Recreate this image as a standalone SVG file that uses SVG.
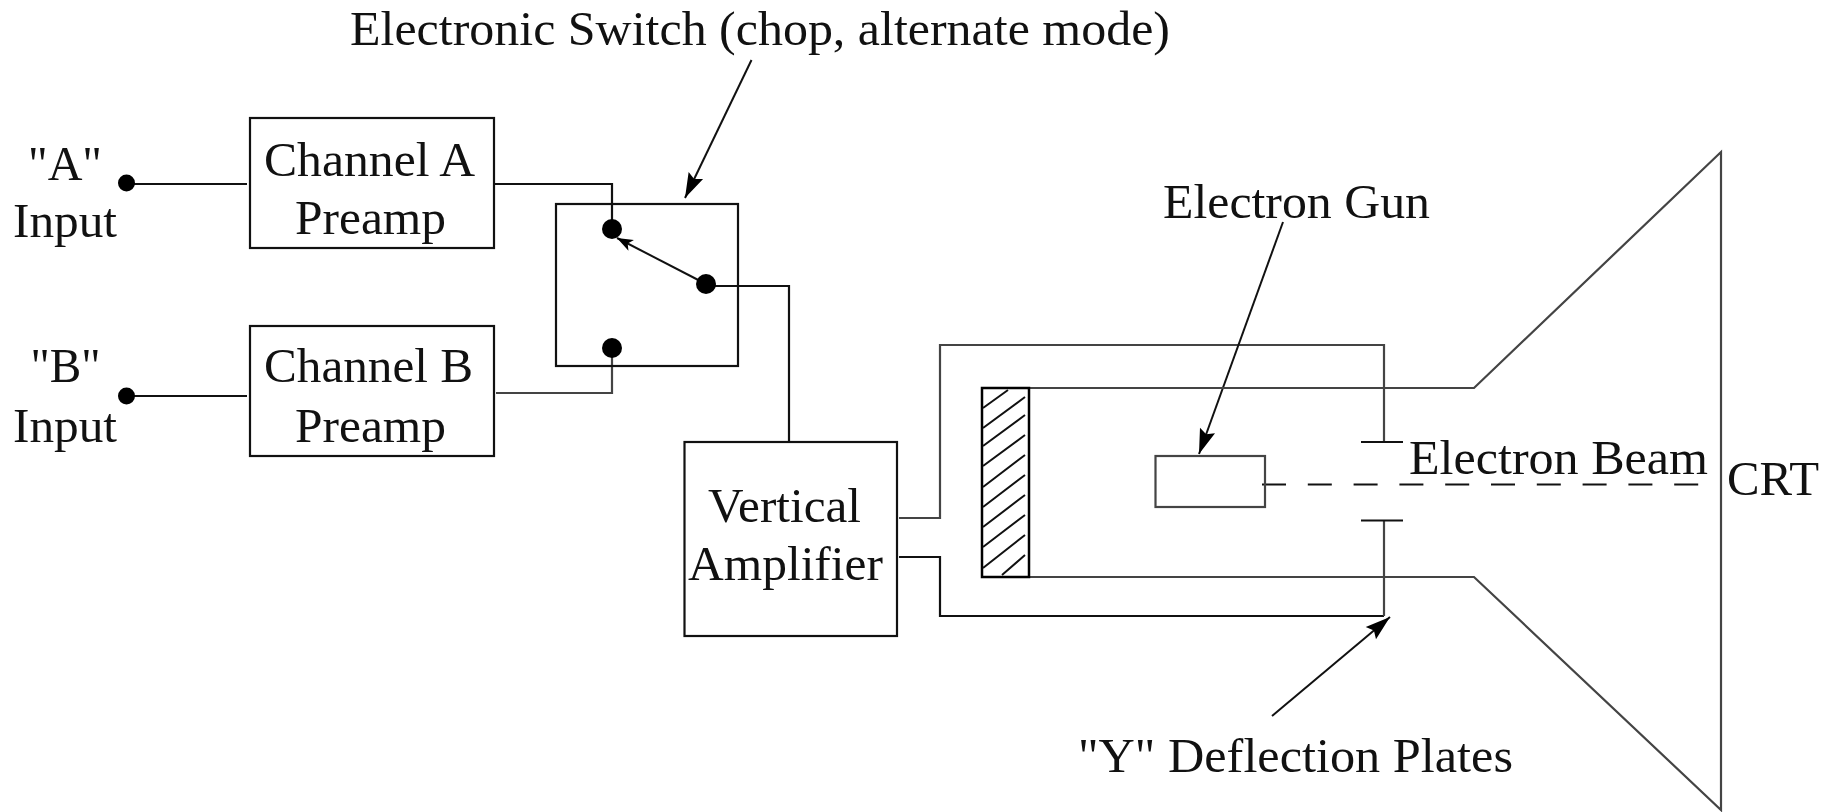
<svg xmlns="http://www.w3.org/2000/svg" width="1835" height="812" viewBox="0 0 1835 812">
<style>
text{font-family:"Liberation Serif","Times New Roman",serif;font-size:49px;fill:#111}
.b{fill:none;stroke:#111;stroke-width:2.200}
.g{fill:none;stroke:#444;stroke-width:2.200}
.w{fill:none;stroke:#111;stroke-width:2}
.d{fill:#000}
</style>
<defs>
<marker id="ah" markerUnits="userSpaceOnUse" markerWidth="30" markerHeight="20" refX="25" refY="8" orient="auto" viewBox="0 0 30 20" overflow="visible">
<path d="M25 8L0 0L4 8L0 16Z" fill="#000"/>
</marker>
<marker id="ahs" markerUnits="userSpaceOnUse" markerWidth="20" markerHeight="16" refX="16" refY="6" orient="auto" viewBox="0 0 20 16" overflow="visible">
<path d="M16 6L0 0L4 6L0 12Z" fill="#000"/>
</marker>
</defs>
<g id="connectors">
<path class="b" d="M126 184H247"/>
<path class="b" d="M126 396H247"/>
<path class="b" d="M495 184H612V229"/>
<path class="g" d="M496 393H612V348"/>
<path class="b" d="M706 286H789V442"/>
<path class="g" d="M899 518H940V345H1384V442"/>
<path class="b" d="M899 557H940V616H1384"/>
<path class="g" d="M1384 616V521"/>
<path class="w" d="M706 284L617 238" marker-end="url(#ahs)"/>
<path class="w" d="M751.500 60L685 198" marker-end="url(#ah)"/>
<path class="w" d="M1283 222L1199 454" marker-end="url(#ah)"/>
<path class="w" d="M1272 716L1390 617" marker-end="url(#ah)"/>
<path d="M1262 484.500H1722" fill="none" stroke="#111" stroke-width="2" stroke-dasharray="24 21.800"/>
</g>
<g id="input-a"><circle class="d" cx="126.500" cy="183" r="8.500"/>
<text x="28" y="180" textLength="74" lengthAdjust="spacingAndGlyphs">"A"</text>
<text x="13" y="237" textLength="104" lengthAdjust="spacingAndGlyphs">Input</text></g>
<g id="input-b"><circle class="d" cx="126.500" cy="396" r="8.500"/>
<text x="30.500" y="382" textLength="70" lengthAdjust="spacingAndGlyphs">"B"</text>
<text x="13" y="442" textLength="104" lengthAdjust="spacingAndGlyphs">Input</text></g>
<g id="channel-a"><rect class="b" x="250" y="118" width="244" height="130"/>
<text x="264" y="176" textLength="211" lengthAdjust="spacingAndGlyphs">Channel A</text>
<text x="295" y="234" textLength="151" lengthAdjust="spacingAndGlyphs">Preamp</text></g>
<g id="channel-b"><rect class="b" x="250" y="326" width="244" height="130"/>
<text x="264" y="382" textLength="209" lengthAdjust="spacingAndGlyphs">Channel B</text>
<text x="295" y="442" textLength="151" lengthAdjust="spacingAndGlyphs">Preamp</text></g>
<g id="switch"><rect class="b" x="556" y="204" width="182" height="162"/>
<circle class="d" cx="612" cy="229" r="10"/><circle class="d" cx="706" cy="284" r="10"/><circle class="d" cx="612" cy="348" r="10"/></g>
<g id="switch-label"><text x="350" y="45" textLength="820" lengthAdjust="spacingAndGlyphs">Electronic Switch (chop, alternate mode)</text></g>
<g id="amplifier"><rect class="b" x="684.500" y="442" width="212.500" height="194"/>
<text x="708" y="522" textLength="153" lengthAdjust="spacingAndGlyphs">Vertical</text>
<text x="688" y="580" textLength="195" lengthAdjust="spacingAndGlyphs">Amplifier</text></g>
<g id="crt">
<path class="g" d="M1029 388H1474L1721 152V810L1474 577H1029"/>
<rect x="982" y="388" width="47" height="189" fill="none" stroke="#000" stroke-width="2.500"/>
<path class="w" d="M983 408L1008 390M983 428L1025 397M983 446L1025 415M983 466L1025 435M983 487L1025 455M983 507L1025 475M983 527L1025 495M983 547L1025 515M983 568L1025 535M1002 575L1025 555"/>
</g>
<g id="electron-gun"><rect class="g" x="1155.500" y="456" width="109.500" height="51"/></g>
<g id="plates"><path class="b" d="M1361 442H1403M1361 520.500H1403"/></g>
<g id="labels">
<text x="1163" y="218" textLength="267" lengthAdjust="spacingAndGlyphs">Electron Gun</text>
<text x="1409" y="474" textLength="299" lengthAdjust="spacingAndGlyphs">Electron Beam</text>
<text x="1727" y="495" textLength="92" lengthAdjust="spacingAndGlyphs">CRT</text>
<text x="1078" y="772" textLength="435" lengthAdjust="spacingAndGlyphs">"Y" Deflection Plates</text>
</g>
</svg>
